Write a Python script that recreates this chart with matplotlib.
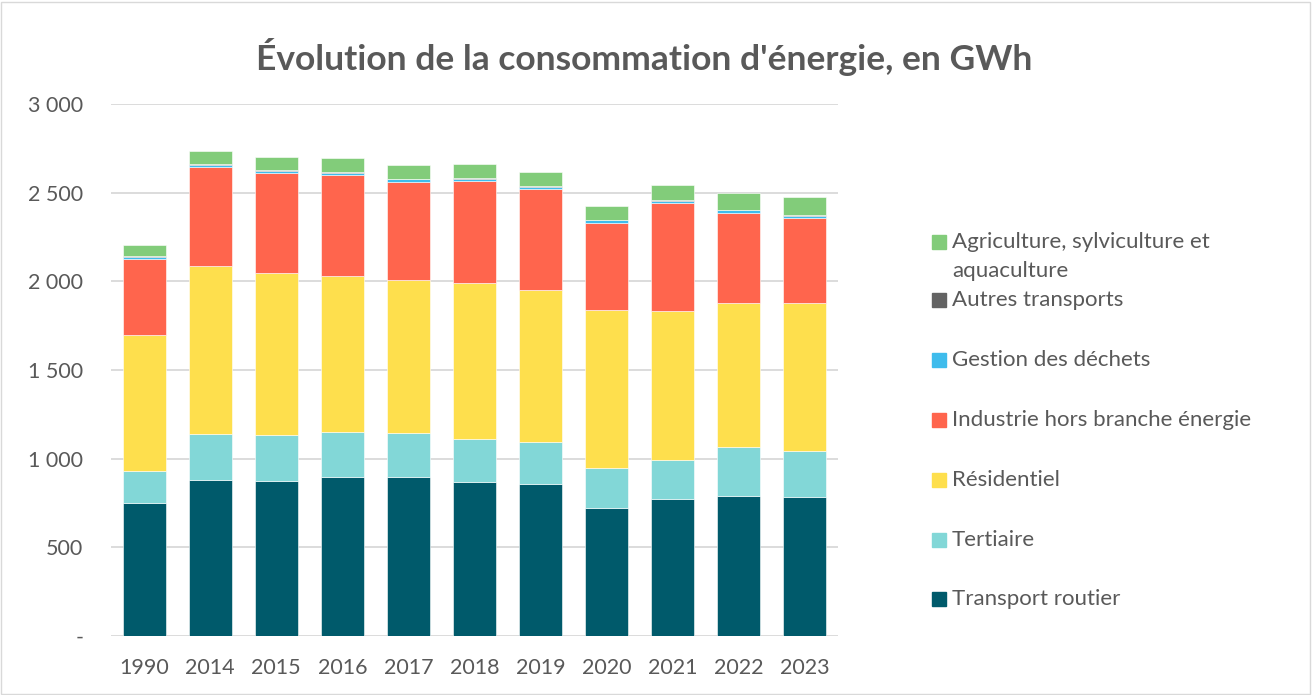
import numpy as np
import matplotlib
matplotlib.use('Agg')
import matplotlib.pyplot as plt
from matplotlib.patches import Rectangle

plt.rcParams['font.family'] = ['Lato', 'DejaVu Sans']

# years on the x axis
years = ['1990', '2014', '2015', '2016', '2017', '2018', '2019', '2020', '2021', '2022', '2023']

# consumption per sector, GWh
transport_routier = [752, 880, 876, 898, 895, 870, 859, 724, 774, 789, 786]
tertiaire = [180, 261, 259, 254, 252, 241, 237, 225, 221, 279, 259]
residentiel = [765, 945, 914, 880, 862, 880, 857, 888, 839, 810, 835]
industrie = [431, 560, 564, 568, 551, 575, 569, 494, 609, 505, 475]
gestion_dechets = [9, 9, 9, 13, 15, 13, 11, 13, 11, 17, 15]
autres_transports = [6, 7, 7, 5, 3, 3, 4, 3, 2, 2, 2]
agriculture = [60, 71, 74, 76, 76, 80, 80, 79, 89, 94, 102]

series = [
    ('Transport routier', transport_routier, '#005A6B'),
    ('Tertiaire', tertiaire, '#82D7D7'),
    ('Résidentiel', residentiel, '#FEDF4D'),
    ('Industrie hors branche énergie', industrie, '#FF654D'),
    ('Gestion des déchets', gestion_dechets, '#3FBCEC'),
    ('Autres transports', autres_transports, '#636363'),
    ('Agriculture, sylviculture et\naquaculture', agriculture, '#82CC7A'),
]

yticks = [0, 500, 1000, 1500, 2000, 2500, 3000]
ytick_labels = ['-', '500', '1 000', '1 500', '2 000', '2 500', '3 000']

txt = '#595959'
W, H = 1312, 695
fig = plt.figure(figsize=(W / 100, H / 100), dpi=100)
ax = fig.add_axes([111 / W, 59 / H, 727 / W, 532 / H])

x = np.arange(len(years))
bottom = np.zeros(len(years))
for name, vals, col in series:
    ax.bar(x, vals, 0.65, bottom=bottom, color=col, edgecolor='white', linewidth=0.4, zorder=3)
    bottom += np.array(vals)

ax.set_xlim(-0.5, len(years) - 0.5)
ax.set_ylim(0, 3000)
ax.set_yticks(yticks)
ax.set_yticklabels(ytick_labels)
ax.set_xticks(x)
ax.set_xticklabels(years)
ax.tick_params(axis='both', length=0, labelsize=15.5, colors=txt)
ax.tick_params(axis='y', pad=20)
ax.tick_params(axis='x', pad=16)
ax.grid(axis='y', color='#D9D9D9', linewidth=1.3, zorder=0)
for s in ax.spines.values():
    s.set_visible(False)

fig.text(644 / W, 1 - 70 / H, "Évolution de la consommation d'énergie, en GWh",
         ha='center', va='baseline', fontsize=25.5, fontweight='bold', color=txt)

# legend, drawn by hand to mimic the spacing of the original
leg_y = [599, 540, 480, 420, 360, 300, 242]
for (name, vals, col), yy in zip(series, leg_y):
    fig.patches.append(Rectangle((932 / W, 1 - (yy + 7) / H), 14 / W, 14 / H,
                                 transform=fig.transFigure, color=col))
    for i, line in enumerate(name.split('\n')):
        fig.text(952 / W, 1 - (yy + 29 * i) / H, line, ha='left', va='center',
                 fontsize=16, color=txt)

# outer chart border
fig.patches.append(Rectangle((1 / W, 1 / H), 1 - 3 / W, 1 - 3 / H, transform=fig.transFigure,
                             fill=False, edgecolor='#D9D9D9', linewidth=1))

fig.savefig('out.png', dpi=100)
